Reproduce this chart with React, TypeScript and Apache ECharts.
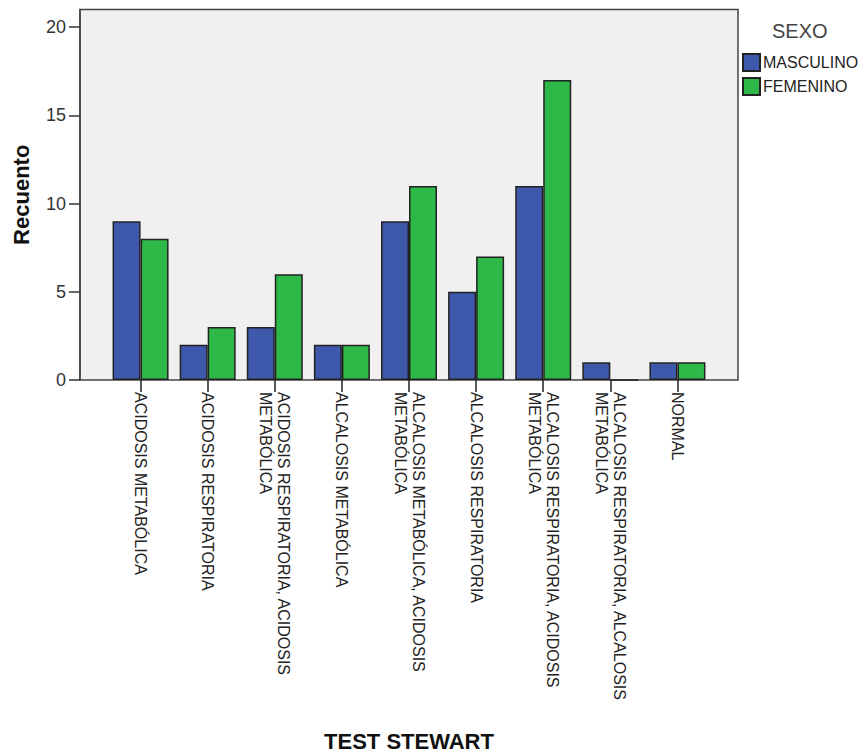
import React, { useEffect, useRef } from "react";
import * as echarts from "echarts";

const categories = [
  "ACIDOSIS METABÓLICA",
  "ACIDOSIS RESPIRATORIA",
  "ACIDOSIS RESPIRATORIA, ACIDOSIS METABÓLICA",
  "ALCALOSIS METABÓLICA",
  "ALCALOSIS METABÓLICA, ACIDOSIS METABÓLICA",
  "ALCALOSIS RESPIRATORIA",
  "ALCALOSIS RESPIRATORIA, ACIDOSIS METABÓLICA",
  "ALCALOSIS RESPIRATORIA, ALCALOSIS METABÓLICA",
  "NORMAL",
];
const masculino = [9, 2, 3, 2, 9, 5, 11, 1, 1];
const femenino = [8, 3, 6, 2, 11, 7, 17, 0, 1];
const yTicks = [0, 5, 10, 15, 20];

const FONT = "'Liberation Sans', Arial, sans-serif";

export default function App() {
  const ref = useRef<HTMLDivElement>(null);
  useEffect(() => {
    if (!ref.current) return;
    const chart = echarts.init(ref.current, null, { renderer: "svg" });
    const wrap = (v: string) => {
      if (v.indexOf(",") < 0) return v;
      const i = v.lastIndexOf(" ");
      return v.slice(0, i) + "\n" + v.slice(i + 1);
    };
    chart.setOption({
      animation: false,
      backgroundColor: "#ffffff",
      textStyle: { fontFamily: FONT },
      title: {
        text: "SEXO",
        left: 772,
        top: 21,
        padding: 0,
        textStyle: { fontFamily: FONT, fontSize: 20, fontWeight: "normal", color: "#444" },
      },
      legend: {
        data: ["MASCULINO", "FEMENINO"],
        orient: "vertical",
        left: 742,
        top: 53,
        padding: 0,
        itemWidth: 17,
        itemHeight: 17,
        itemGap: 5,
        icon: "rect",
        textStyle: { fontFamily: FONT, fontSize: 16, color: "#222", padding: [0, 0, 0, -2] },
      },
      grid: [
        {
          left: 80,
          right: 124,
          top: 9.5,
          bottom: 376,
          show: true,
          backgroundColor: "#f0f0f0",
          borderColor: "#444",
          borderWidth: 1.5,
          outerBoundsMode: "none",
          containLabel: false,
        },
        { left: 107, right: 151, top: 9.5, bottom: 376, outerBoundsMode: "none", containLabel: false },
      ],
      xAxis: [
        {
          gridIndex: 0,
          type: "value",
          min: 0,
          max: 1,
          axisLine: { show: false },
          axisTick: { show: false },
          axisLabel: { show: false },
          splitLine: { show: false },
          name: "TEST STEWART",
          nameLocation: "middle",
          nameGap: 350,
          nameTextStyle: { fontFamily: FONT, fontSize: 22, fontWeight: "bold", color: "#111" },
        },
        {
          gridIndex: 1,
          type: "category",
          data: categories,
          axisLine: { show: false },
          axisTick: { show: true, alignWithLabel: true, length: 12, lineStyle: { color: "#222", width: 1.5 } },
          axisLabel: {
            rotate: -90,
            margin: 12,
            fontFamily: FONT,
            fontSize: 16,
            lineHeight: 18,
            color: "#222",
            interval: 0,
            formatter: wrap,
          },
          splitLine: { show: false },
        },
      ],
      yAxis: [
        {
          gridIndex: 0,
          type: "value",
          min: 0,
          max: 21,
          axisLine: { show: true, lineStyle: { color: "#444", width: 1.5 } },
          axisTick: { show: true, length: 11, customValues: yTicks, lineStyle: { color: "#333", width: 1.5 } },
          axisLabel: { margin: 14, customValues: yTicks, fontFamily: FONT, fontSize: 18, color: "#333" },
          splitLine: { show: false },
          name: "Recuento",
          nameLocation: "middle",
          nameGap: 48,
          nameTextStyle: { fontFamily: FONT, fontSize: 22, fontWeight: "bold", color: "#111" },
        },
        {
          gridIndex: 1,
          type: "value",
          min: 0,
          max: 21,
          show: false,
        },
      ],
      series: [
        {
          name: "MASCULINO",
          type: "bar",
          xAxisIndex: 1,
          yAxisIndex: 1,
          data: masculino,
          barWidth: 28,
          barGap: "0%",
          itemStyle: { color: "#3E58AC", borderColor: "#222", borderWidth: 1.5 },
        },
        {
          name: "FEMENINO",
          type: "bar",
          xAxisIndex: 1,
          yAxisIndex: 1,
          data: femenino,
          barWidth: 28,
          barGap: "0%",
          itemStyle: { color: "#2EB848", borderColor: "#222", borderWidth: 1.5 },
        },
      ],
    });
    return () => chart.dispose();
  }, []);
  return (
    <div
      ref={ref}
      style={{ position: "fixed", left: 0, top: 0, width: 862, height: 756 }}
    />
  );
}
